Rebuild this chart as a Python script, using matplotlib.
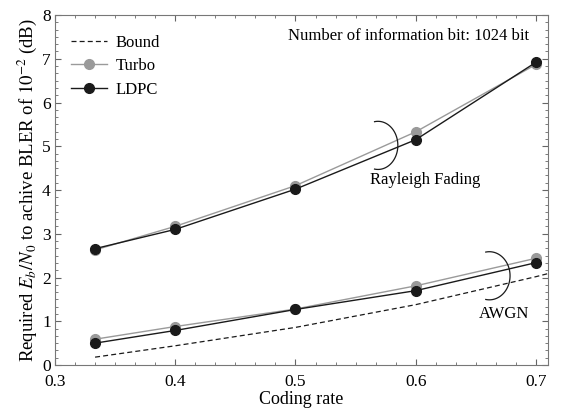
import matplotlib
matplotlib.use("Agg")
import numpy as np
from matplotlib import pyplot as plt
from matplotlib.ticker import AutoMinorLocator

plt.rcParams['font.family'] = ['Liberation Serif', 'DejaVu Serif']
plt.rcParams['mathtext.fontset'] = 'stix'

# data
rate = [1 / 3, 0.4, 0.5, 0.6, 0.7]
bound_rate = [1 / 3, 0.4, 0.5, 0.6, 0.7, 0.71]
bound_awgn = [0.18, 0.44, 0.86, 1.38, 2.02, 2.09]
turbo_awgn = [0.59, 0.88, 1.28, 1.81, 2.44]
ldpc_awgn = [0.50, 0.79, 1.27, 1.70, 2.34]
turbo_ray = [2.63, 3.17, 4.10, 5.33, 6.87]
ldpc_ray = [2.66, 3.10, 4.02, 5.15, 6.92]

fig = plt.figure(figsize=(5.65, 4.12), dpi=100)
ax = fig.add_axes([0.0973, 0.114, 0.8727, 0.8496])

gray = "#9a9a9a"
black = "#1a1a1a"

ax.plot(bound_rate, bound_awgn, "--", color=black, lw=0.9, dashes=(4, 2.5), label="Bound")
ax.plot(rate, turbo_awgn, "-o", color=gray, lw=1.0, ms=7, label="Turbo")
ax.plot(rate, ldpc_awgn, "-o", color=black, lw=1.0, ms=7, label="LDPC")
ax.plot(rate, turbo_ray, "-o", color=gray, lw=1.0, ms=7)
ax.plot(rate, ldpc_ray, "-o", color=black, lw=1.0, ms=7)


def bracket(cx, cy, rx, ry):
    # ")" shaped bracket, right half of an ellipse
    t = np.radians(np.linspace(-100, 100, 60))
    ax.plot(cx + rx * np.cos(t), cy + ry * np.sin(t), color=black, lw=0.9)


bracket(0.5686, 5.02, 0.0165, 0.55)
bracket(0.6612, 2.04, 0.0172, 0.55)
ax.text(0.608, 4.22, "Rayleigh Fading", ha="center", va="center", fontsize=12)
ax.text(0.673, 1.16, "AWGN", ha="center", va="center", fontsize=12)
ax.text(0.694, 7.52, "Number of information bit: 1024 bit", ha="right", va="center", fontsize=12)

ax.set_xlim(0.3, 0.71)
ax.set_ylim(0, 8)
ax.set_xticks([0.3, 0.4, 0.5, 0.6, 0.7])
ax.set_yticks(range(0, 9))
ax.xaxis.set_minor_locator(AutoMinorLocator(6))
ax.yaxis.set_minor_locator(AutoMinorLocator(6))
ax.tick_params(which="both", direction="in", top=True, right=True, color="#666666", labelsize=12.5)
ax.tick_params(which="major", length=4)
ax.tick_params(axis="x", which="major", pad=6.5)
ax.tick_params(axis="y", which="major", pad=3)
ax.tick_params(which="minor", length=2.5)
for s in ax.spines.values():
    s.set_color("#777777")

ax.set_xlabel("Coding rate", fontsize=13, labelpad=1)
ax.set_ylabel(r"Required $E_b/N_0$ to achive BLER of $10^{-2}$ (dB)", fontsize=13.5, labelpad=2)

ax.legend(loc="upper left", bbox_to_anchor=(0.025, 0.953), frameon=False, fontsize=12,
          handlelength=2.2, handletextpad=0.5, labelspacing=0.45, borderaxespad=0.0, borderpad=0.2)

fig.savefig("out.png", dpi=100)
